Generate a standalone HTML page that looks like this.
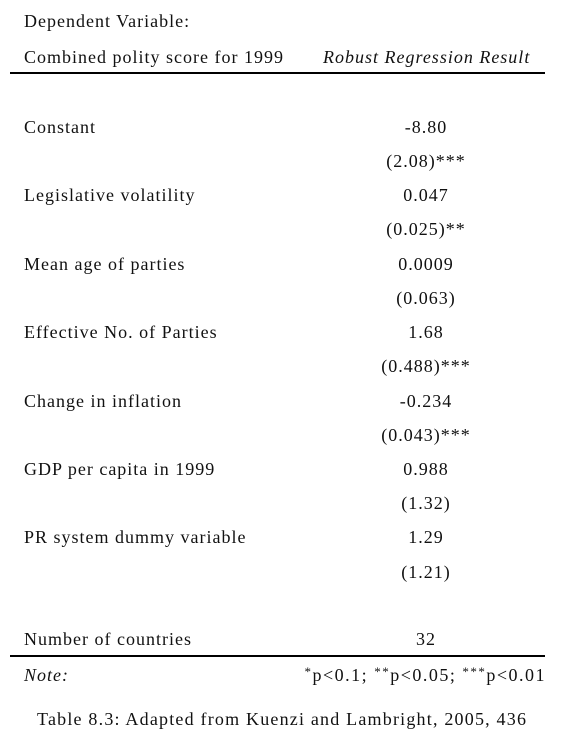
<!DOCTYPE html>
<html><head><meta charset="utf-8"><style>
body{margin:0;width:575px;height:754px;background:#fff;position:relative;font-family:"Liberation Serif",serif;font-size:18px;letter-spacing:1.0px;color:#111;overflow:hidden}
.t{position:absolute;line-height:20px;white-space:nowrap}
.l{left:24px}
.c{left:326px;width:200px;text-align:center}
.rule{position:absolute;left:10px;width:535px;height:1.5px;background:#000}
i{font-style:italic}
sup{font-size:13px;vertical-align:5px;line-height:0}
</style></head><body>
<div class="t l" style="top:11px">Dependent Variable:</div>
<div class="t l" style="top:47px">Combined polity score for 1999</div>
<div class="t" style="top:47px;left:323px"><i>Robust Regression Result</i></div>
<div class="rule" style="top:72px"></div>

<div class="t l" style="top:117px">Constant</div>
<div class="t c" style="top:117px">-8.80</div>
<div class="t c" style="top:151px">(2.08)***</div>

<div class="t l" style="top:185px">Legislative volatility</div>
<div class="t c" style="top:185px">0.047</div>
<div class="t c" style="top:219px">(0.025)**</div>

<div class="t l" style="top:254px">Mean age of parties</div>
<div class="t c" style="top:254px">0.0009</div>
<div class="t c" style="top:288px">(0.063)</div>

<div class="t l" style="top:322px">Effective No. of Parties</div>
<div class="t c" style="top:322px">1.68</div>
<div class="t c" style="top:356px">(0.488)***</div>

<div class="t l" style="top:391px">Change in inflation</div>
<div class="t c" style="top:391px">-0.234</div>
<div class="t c" style="top:425px">(0.043)***</div>

<div class="t l" style="top:459px">GDP per capita in 1999</div>
<div class="t c" style="top:459px">0.988</div>
<div class="t c" style="top:493px">(1.32)</div>

<div class="t l" style="top:527px">PR system dummy variable</div>
<div class="t c" style="top:527px">1.29</div>
<div class="t c" style="top:562px">(1.21)</div>

<div class="t l" style="top:629px">Number of countries</div>
<div class="t c" style="top:629px">32</div>
<div class="rule" style="top:655px"></div>

<div class="t l" style="top:665px"><i>Note:</i></div>
<div class="t" style="top:665px;right:29px;letter-spacing:1.5px"><sup>*</sup>p&lt;0.1; <sup>**</sup>p&lt;0.05; <sup>***</sup>p&lt;0.01</div>

<div class="t" style="top:709px;left:37px;letter-spacing:1.2px">Table 8.3: Adapted from Kuenzi and Lambright, 2005, 436</div>
</body></html>
